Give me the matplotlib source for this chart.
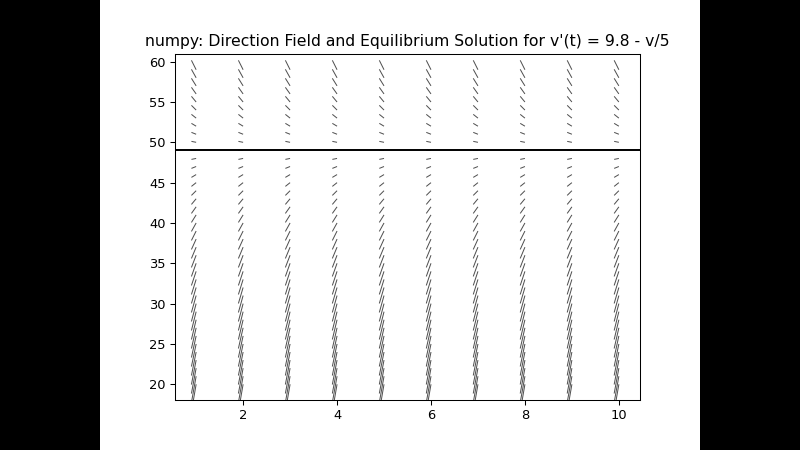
import numpy as np
import matplotlib
matplotlib.use("Agg")
import matplotlib.pyplot as plt
from matplotlib.patches import Rectangle

# grid for the direction field of v'(t) = 9.8 - v/5
t_vals = np.arange(1, 11)
v_vals = np.arange(20, 60)
v_eq = 49

T, V = np.meshgrid(t_vals, v_vals)
dT = np.ones_like(T, dtype=float)
dV = 9.8 - V / 5

# 640x480 figure scaled into a 800x450 frame with black bars
dpi = 93.75
fig = plt.figure(figsize=(800 / dpi, 450 / dpi), dpi=dpi, facecolor="black")
fig.patches.append(Rectangle((0.125, 0), 0.75, 1, transform=fig.transFigure,
                             facecolor="white", edgecolor="none", zorder=-10))

ax = fig.add_axes([175 / 800, 50 / 450, 465 / 800, 346 / 450])
ax.quiver(T, V, dT, dV, pivot="tip", units="dots", width=1.0,
          scale_units="dots", scale=1 / 4.7,
          headwidth=0, headlength=0, headaxislength=0, color="#505050")
ax.axhline(v_eq, color="black", linewidth=1.5)
ax.set_title("numpy: Direction Field and Equilibrium Solution for v'(t) = 9.8 - v/5")

fig.savefig("out.png", dpi=dpi, facecolor="black")
